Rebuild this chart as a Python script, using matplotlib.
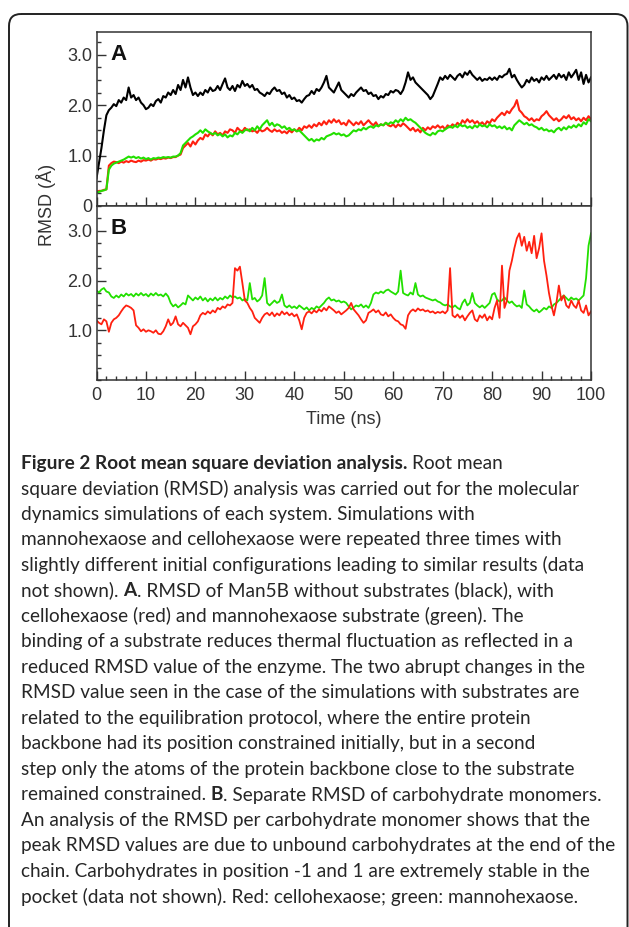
import matplotlib
matplotlib.use("Agg")
import matplotlib.pyplot as plt
import numpy as np
from matplotlib.patches import FancyBboxPatch
from matplotlib.ticker import MultipleLocator

# time axis, one frame every 0.5 ns
time_ns = np.arange(0, 100.5, 0.5)

# panel A: RMSD of the whole enzyme
no_substrate = [
    0.55, 0.85, 1.15, 1.5, 1.8, 1.9, 1.95, 2.02, 1.98, 2.1,
    2.05, 2.15, 2.1, 2.35, 2.15, 2.2, 2.1, 2.15, 2.05, 2.0,
    1.92, 1.95, 2.02, 1.98, 2.08, 2.12, 2.05, 2.18, 2.15, 2.25,
    2.2, 2.3, 2.22, 2.4, 2.3, 2.5, 2.35, 2.55, 2.35, 2.2,
    2.25, 2.18, 2.25, 2.2, 2.3, 2.25, 2.35, 2.28, 2.3, 2.38,
    2.3, 2.42, 2.53, 2.35, 2.3, 2.38, 2.28, 2.4, 2.35, 2.48,
    2.38, 2.42, 2.35, 2.4, 2.3, 2.32, 2.25, 2.22, 2.18, 2.25,
    2.22, 2.3, 2.35, 2.28, 2.3, 2.22, 2.25, 2.15, 2.2, 2.12,
    2.15, 2.08, 2.1, 2.05, 2.12, 2.18, 2.2, 2.28, 2.22, 2.32,
    2.28, 2.35, 2.45, 2.58, 2.35, 2.3, 2.25, 2.35, 2.45, 2.3,
    2.25, 2.2, 2.15, 2.22, 2.18, 2.25, 2.3, 2.35, 2.28, 2.3,
    2.22, 2.25, 2.18, 2.2, 2.12, 2.18, 2.15, 2.22, 2.2, 2.28,
    2.25, 2.3, 2.28, 2.22, 2.3, 2.45, 2.65, 2.5, 2.55, 2.45,
    2.4, 2.35, 2.3, 2.25, 2.2, 2.12, 2.18, 2.3, 2.42, 2.55,
    2.5, 2.58, 2.52, 2.6, 2.55, 2.5, 2.58, 2.62, 2.55, 2.65,
    2.6, 2.68, 2.6, 2.55, 2.5, 2.55, 2.48, 2.52, 2.5, 2.55,
    2.5, 2.55, 2.5, 2.58, 2.55, 2.6, 2.62, 2.72, 2.55, 2.6,
    2.5, 2.42, 2.35, 2.4, 2.5, 2.45, 2.55, 2.48, 2.52, 2.45,
    2.55, 2.5, 2.58, 2.5, 2.55, 2.6, 2.52, 2.62, 2.55, 2.6,
    2.5, 2.65, 2.55, 2.62, 2.7, 2.5, 2.65, 2.42, 2.6, 2.45,
    2.55]

cello_enzyme = [
    0.28, 0.3, 0.3, 0.32, 0.33, 0.8, 0.85, 0.88, 0.87, 0.85,
    0.88, 0.86, 0.89, 0.87, 0.9, 0.88, 0.87, 0.9, 0.88, 0.91,
    0.9, 0.92, 0.9, 0.93, 0.92, 0.94, 0.93, 0.95, 0.94, 0.96,
    0.95, 0.97, 0.97, 1.0, 1.02, 1.15, 1.2, 1.25, 1.18, 1.28,
    1.22, 1.3, 1.35, 1.32, 1.42, 1.38, 1.45, 1.4, 1.48, 1.42,
    1.45, 1.4, 1.48, 1.45, 1.52, 1.5, 1.45, 1.55, 1.5, 1.48,
    1.55, 1.5, 1.52, 1.48, 1.5, 1.45, 1.52, 1.48, 1.5, 1.55,
    1.5, 1.47, 1.52, 1.48, 1.5, 1.45, 1.48, 1.44, 1.5, 1.46,
    1.52, 1.48, 1.55, 1.5, 1.58, 1.55, 1.6, 1.55, 1.62, 1.58,
    1.65, 1.6, 1.68, 1.62, 1.7, 1.65, 1.72, 1.66, 1.7, 1.62,
    1.65, 1.6, 1.7, 1.65, 1.6, 1.66, 1.62, 1.68, 1.6, 1.65,
    1.7, 1.64, 1.6, 1.66, 1.58, 1.62, 1.6, 1.65, 1.6, 1.58,
    1.62, 1.56, 1.62, 1.58, 1.64, 1.6, 1.55, 1.5, 1.55, 1.48,
    1.52, 1.46, 1.55, 1.5, 1.56, 1.52, 1.58, 1.55, 1.6, 1.55,
    1.58, 1.52, 1.6, 1.56, 1.62, 1.58, 1.65, 1.6, 1.7, 1.65,
    1.72, 1.66, 1.7, 1.64, 1.68, 1.62, 1.66, 1.6, 1.68, 1.64,
    1.72, 1.68, 1.75, 1.8, 1.85, 1.8, 1.88, 1.84, 1.92, 1.98,
    2.1, 1.9, 1.85, 1.78, 1.75, 1.7, 1.74, 1.68, 1.72, 1.7,
    1.78, 1.82, 1.88, 1.8, 1.75, 1.7, 1.74, 1.68, 1.72, 1.78,
    1.74, 1.8, 1.72, 1.76, 1.7, 1.74, 1.68, 1.75, 1.7, 1.78,
    1.72]

manno_enzyme = [
    0.27, 0.28, 0.3, 0.31, 0.33, 0.72, 0.8, 0.84, 0.86, 0.88,
    0.9, 0.92, 0.95, 0.98, 0.96, 0.98, 0.95, 0.97, 0.94, 0.96,
    0.93, 0.95, 0.92, 0.95, 0.94, 0.96, 0.95, 0.97, 0.96, 0.97,
    0.96, 0.98, 0.98, 1.0, 1.05, 1.2, 1.25, 1.3, 1.35, 1.38,
    1.42, 1.45, 1.5, 1.45, 1.52, 1.48, 1.45, 1.42, 1.45, 1.4,
    1.43, 1.38, 1.42, 1.36, 1.4, 1.38, 1.45, 1.42, 1.48, 1.45,
    1.5, 1.52, 1.48, 1.55, 1.5, 1.58, 1.52, 1.6, 1.65, 1.7,
    1.6, 1.65, 1.58, 1.62, 1.6, 1.55, 1.58, 1.52, 1.55, 1.5,
    1.52, 1.48, 1.5, 1.45, 1.4, 1.35, 1.3, 1.33, 1.28, 1.32,
    1.3, 1.35, 1.32, 1.38, 1.4, 1.42, 1.45, 1.42, 1.44, 1.4,
    1.42, 1.38, 1.4, 1.45, 1.5, 1.48, 1.52, 1.5, 1.55, 1.52,
    1.56, 1.58, 1.55, 1.6, 1.58, 1.62, 1.6, 1.65, 1.62, 1.66,
    1.64, 1.7, 1.66, 1.72, 1.68, 1.75, 1.7, 1.72, 1.68, 1.65,
    1.6, 1.55, 1.5, 1.45, 1.42, 1.4, 1.45, 1.42, 1.48, 1.5,
    1.48, 1.52, 1.55, 1.58, 1.55, 1.6, 1.56, 1.62, 1.58, 1.6,
    1.55, 1.58, 1.54, 1.6, 1.56, 1.62, 1.58, 1.6, 1.56, 1.62,
    1.58, 1.6, 1.55, 1.58, 1.54, 1.58, 1.52, 1.55, 1.5, 1.6,
    1.65, 1.7, 1.66, 1.62, 1.65, 1.6, 1.62, 1.58, 1.56, 1.52,
    1.55, 1.5, 1.52, 1.48, 1.5, 1.46, 1.52, 1.55, 1.5, 1.56,
    1.52, 1.58, 1.55, 1.6, 1.56, 1.62, 1.58, 1.66, 1.62, 1.72,
    1.68]

# panel B: RMSD of the carbohydrate monomers
manno_sugar = [
    1.8, 1.76, 1.82, 1.85, 1.78, 1.76, 1.68, 1.65, 1.7, 1.66,
    1.72, 1.68, 1.74, 1.7, 1.73, 1.68, 1.74, 1.7, 1.75, 1.7,
    1.73, 1.68, 1.74, 1.7, 1.75, 1.7, 1.72, 1.68, 1.74, 1.68,
    1.55, 1.48, 1.52, 1.46, 1.5, 1.55, 1.52, 1.7, 1.65, 1.6,
    1.66, 1.62, 1.68, 1.6, 1.65, 1.58, 1.64, 1.6, 1.66, 1.6,
    1.65, 1.62, 1.68, 1.64, 1.7, 1.66, 1.68, 1.64, 1.66, 1.6,
    1.63, 1.6, 1.95, 1.62, 1.65, 1.58, 1.62, 1.7, 2.05, 1.55,
    1.5, 1.55, 1.6, 1.55, 1.58, 1.72, 1.5, 1.46, 1.5, 1.45,
    1.48, 1.44, 1.5, 1.46, 1.42, 1.46, 1.4, 1.45, 1.42, 1.48,
    1.45, 1.5, 1.55, 1.62, 1.66, 1.6, 1.62, 1.58, 1.6, 1.56,
    1.58, 1.55, 1.48, 1.42, 1.46, 1.5, 1.48, 1.52, 1.46, 1.5,
    1.45, 1.55, 1.72, 1.76, 1.74, 1.78, 1.75, 1.8, 1.82, 1.78,
    1.75, 1.72, 1.78, 2.2, 1.75, 1.72, 1.7, 1.76, 1.72, 1.95,
    1.72, 1.68, 1.7, 1.66, 1.64, 1.62, 1.6, 1.62, 1.58, 1.56,
    1.52, 1.5, 1.52, 1.48, 1.46, 1.5, 1.45, 1.42, 1.55, 1.62,
    1.5, 1.55, 1.75, 1.55, 1.5, 1.46, 1.5, 1.45, 1.5, 1.55,
    1.72, 1.75, 1.62, 1.58, 1.6, 1.66, 1.6, 1.55, 1.58, 1.52,
    1.48, 1.5, 1.45, 1.8, 1.52, 1.48, 1.42, 1.38, 1.42, 1.36,
    1.4, 1.45, 1.42, 1.48, 1.45, 1.52, 1.55, 1.6, 1.66, 1.7,
    1.65, 1.6, 1.66, 1.62, 1.64, 1.6, 1.65, 1.7, 2.05, 2.7,
    2.95]

cello_sugar = [
    1.2, 1.15, 1.12, 1.22, 1.18, 0.97, 1.15, 1.22, 1.25, 1.3,
    1.38, 1.45, 1.5, 1.48, 1.45, 1.4, 1.1, 1.05, 0.98, 1.02,
    0.97, 1.0, 0.98, 0.95, 1.0, 0.93, 0.92, 0.98, 1.08, 1.22,
    1.1, 1.15, 1.28, 1.12, 1.08, 1.15, 1.1, 1.05, 0.92, 1.08,
    1.12, 1.18, 1.3, 1.35, 1.32, 1.38, 1.34, 1.4, 1.36, 1.45,
    1.42, 1.48, 1.45, 1.52, 1.5, 1.55, 2.25, 2.2, 2.28, 1.95,
    1.6, 1.55, 1.45, 1.38, 1.25, 1.2, 1.15, 1.25, 1.32, 1.35,
    1.3, 1.36, 1.28, 1.34, 1.3, 1.38, 1.32, 1.36, 1.3, 1.34,
    1.28, 1.32, 1.2, 1.02, 1.25, 1.35, 1.38, 1.34, 1.4, 1.36,
    1.42, 1.38, 1.45, 1.4, 1.48, 1.44, 1.4, 1.35, 1.38, 1.32,
    1.36, 1.4, 1.45, 1.55, 1.42, 1.36, 1.3, 1.22, 1.15, 1.2,
    1.35, 1.38, 1.42, 1.36, 1.4, 1.32, 1.3, 1.36, 1.28, 1.32,
    1.25, 1.2, 1.18, 1.12, 1.1, 1.03, 1.3, 1.38, 1.42, 1.38,
    1.44, 1.4, 1.42, 1.38, 1.4, 1.36, 1.38, 1.34, 1.37, 1.35,
    1.38, 1.34, 1.4, 2.25, 1.3, 1.26, 1.32, 1.25, 1.3, 1.2,
    1.28, 1.35, 1.4, 1.22, 1.18, 1.3, 1.25, 1.32, 1.2, 1.28,
    1.22, 1.45, 1.6, 1.25, 2.3, 1.45, 1.6, 2.2, 2.4, 2.65,
    2.85, 2.95, 2.7, 2.88, 2.6, 2.78, 2.55, 2.9, 2.45, 2.65,
    2.95, 2.4, 2.1, 1.75, 1.5, 1.3, 1.55, 1.9, 1.6, 1.7,
    1.5, 1.45, 1.6, 1.5, 1.45, 1.6, 1.4, 1.35, 1.5, 1.3,
    1.38]

a_ticks = [0, 1, 2, 3]
a_ticklabels = ["0", "1.0", "2.0", "3.0"]
b_ticks = [1, 2, 3]
b_ticklabels = ["1.0", "2.0", "3.0"]

caption = [
    [("Figure 2 Root mean square deviation analysis.", True), ("Root mean", False)],
    [("square deviation (RMSD) analysis was carried out for the molecular", False)],
    [("dynamics simulations of each system. Simulations with", False)],
    [("mannohexaose and cellohexaose were repeated three times with", False)],
    [("slightly different initial configurations leading to similar results (data", False)],
    [("not shown).", False), ("A", True), (". RMSD of Man5B without substrates (black), with", False)],
    [("cellohexaose (red) and mannohexaose substrate (green). The", False)],
    [("binding of a substrate reduces thermal fluctuation as reflected in a", False)],
    [("reduced RMSD value of the enzyme. The two abrupt changes in the", False)],
    [("RMSD value seen in the case of the simulations with substrates are", False)],
    [("related to the equilibration protocol, where the entire protein", False)],
    [("backbone had its position constrained initially, but in a second", False)],
    [("step only the atoms of the protein backbone close to the substrate", False)],
    [("remained constrained.", False), ("B", True), (". Separate RMSD of carbohydrate monomers.", False)],
    [("An analysis of the RMSD per carbohydrate monomer shows that the", False)],
    [("peak RMSD values are due to unbound carbohydrates at the end of the", False)],
    [("chain. Carbohydrates in position -1 and 1 are extremely stable in the", False)],
    [("pocket (data not shown). Red: cellohexaose; green: mannohexaose.", False)],
]

RED = "#ff2010"
GREEN = "#22e000"
INK = "#262626"
W, H = 629, 927

plt.rcParams["font.family"] = ["Liberation Sans", "DejaVu Sans"]
fig = plt.figure(figsize=(W / 100, H / 100), dpi=100)

# background axes in pixel units for the frame and the caption
bg = fig.add_axes([0, 0, 1, 1], zorder=-1)
bg.set_xlim(0, W)
bg.set_ylim(H, 0)
bg.axis("off")
bg.add_patch(FancyBboxPatch((9, 14), 618.5, 1000, boxstyle="round,pad=0,rounding_size=12",
                            fill=False, lw=1.4, ec="#222222"))


def px_axes(x0, y0, x1, y1):
    return fig.add_axes([x0 / W, 1 - y1 / H, (x1 - x0) / W, (y1 - y0) / H])


axA = px_axes(96.5, 32, 591, 206)
axB = px_axes(96.5, 206, 591, 380)

axA.plot(time_ns, no_substrate, color="black", lw=1.5)
axA.plot(time_ns, cello_enzyme, color=RED, lw=1.5)
axA.plot(time_ns, manno_enzyme, color=GREEN, lw=1.5)

axB.plot(time_ns, manno_sugar, color=GREEN, lw=1.3)
axB.plot(time_ns, cello_sugar, color=RED, lw=1.3)

for ax, top, ticks, labels in [(axA, 3.45, a_ticks, a_ticklabels), (axB, 3.5, b_ticks, b_ticklabels)]:
    ax.set_xlim(0, 100)
    ax.set_ylim(0, top)
    ax.set_yticks(ticks)
    ax.set_yticklabels(labels)
    ax.yaxis.set_minor_locator(MultipleLocator(0.25))
    ax.xaxis.set_major_locator(MultipleLocator(10))
    ax.xaxis.set_minor_locator(MultipleLocator(2))
    ax.tick_params(which="both", direction="in", color="#333333", width=1.0,
                   labelsize=13, labelcolor="#333333", top=False, right=False)
    ax.tick_params(which="major", length=6.5)
    ax.tick_params(which="minor", length=3.2)
    ax.tick_params(axis="x", pad=5)
    ax.tick_params(axis="y", pad=3)
    for s in ax.spines.values():
        s.set_color("#333333")
        s.set_linewidth(1.1)

axA.tick_params(axis="x", labelbottom=False)
axB.set_xlabel("Time (ns)", fontsize=13, color="#333333", labelpad=5)

axA.text(0.028, 0.93, "A", transform=axA.transAxes, fontsize=16, fontweight="bold",
         va="top", ha="left", color="#111111")
axB.text(0.028, 0.93, "B", transform=axB.transAxes, fontsize=16, fontweight="bold",
         va="top", ha="left", color="#111111")

bg.text(46, 205, "RMSD (\u00c5)", rotation=90, fontsize=13, color="#333333",
        ha="center", va="center")

# caption: fit the font so the widest line reaches close to the frame
cap_font = ["Lato", "DejaVu Sans"]
fig.canvas.draw()
rend = fig.canvas.get_renderer()
widest = 0
for segs in caption:
    probe = bg.text(0, 0, " ".join(s for s, _ in segs), family=cap_font, fontsize=13)
    widest = max(widest, probe.get_window_extent(rend).width)
    probe.remove()
cap_size = 13 * 592 / widest
space_pt = 0.25 * cap_size

y0, dy = 472, 25.5
for i, segs in enumerate(caption):
    y = y0 + i * dy
    prev = None
    for txt, bold in segs:
        wt = "bold" if bold else "normal"
        if prev is None:
            prev = bg.text(21, y, txt, family=cap_font, fontsize=cap_size, fontweight=wt,
                           color=INK, ha="left", va="bottom")
        else:
            gap = 0 if txt.startswith(".") else space_pt
            prev = bg.annotate(txt, xy=(1, 0), xycoords=prev, xytext=(gap, 0),
                               textcoords="offset points", family=cap_font, fontsize=cap_size,
                               fontweight=wt, color=INK, ha="left", va="bottom")

fig.savefig("out.png", dpi=100)
